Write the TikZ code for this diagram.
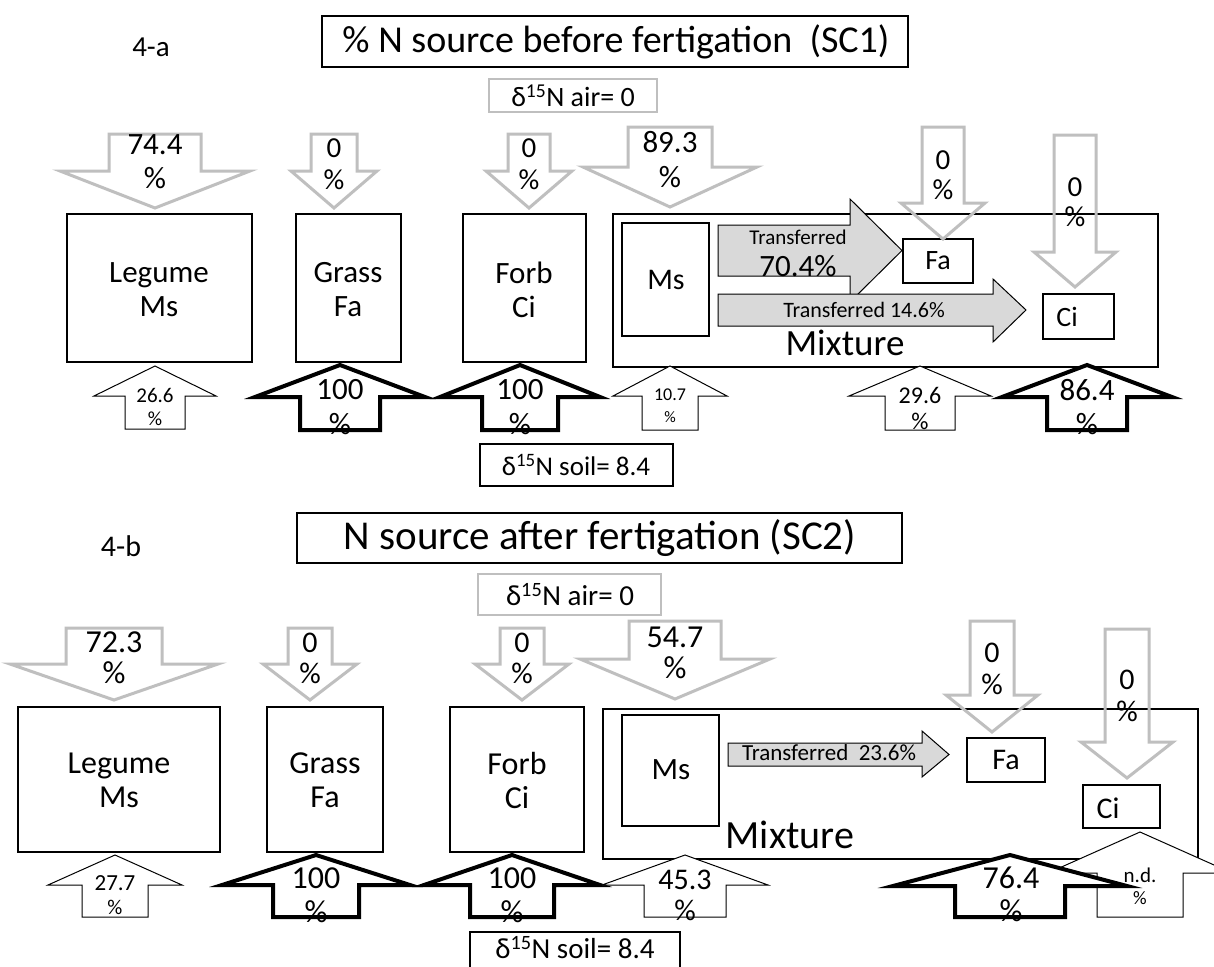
\documentclass[tikz,border=0pt]{standalone}
\usepackage{fontspec}
\setmainfont{Carlito}
\definecolor{arrgray}{HTML}{BFBFBF}
\definecolor{trfill}{HTML}{D9D9D9}
\newcommand{\blockArr}[7][]{\draw[#1] ({#2-#3},#5) -- ({#2+#3},#5) -- ({#2+#3},#6) -- ({#2+#4},#6) -- (#2,#7) -- ({#2-#4},#6) -- ({#2-#3},#6) -- cycle;}
\newcommand{\rtArr}[8][]{\draw[#1] (#2,#3) -- (#5,#3) -- (#5,#6) -- (#8,{(#3+#4)/2}) -- (#5,#7) -- (#5,#4) -- (#2,#4) -- cycle;}
\newcommand{\fs}[1]{\fontsize{#1}{#1}\selectfont}
\newcommand{\fsl}[2]{\fontsize{#1}{#2}\selectfont}
\tikzset{
  box/.style={draw=black, line width=1.3pt},
  airbox/.style={draw=arrgray, line width=2.5pt},
  grayarr/.style={draw=arrgray, line width=3pt, line join=miter},
  thinarr/.style={draw=black, fill=white, line width=1pt, line join=miter},
  thickarr/.style={draw=black, fill=white, line width=4pt, line join=miter},
  trarr/.style={draw=black, fill=trfill, line width=1pt, line join=miter},
  lbl/.style={inner sep=0pt, anchor=center, align=center, font=\fs{31}},
  lblb/.style={inner sep=0pt, anchor=center, align=center, font=\fs{30}},
}
\begin{document}
\begin{tikzpicture}[x=1pt,y=-1pt]
\clip (0,0) rectangle (1214,966);
\fill[white] (0,0) rectangle (1214,966);
% ================= TOP (4-a) =================
\node[lbl,font=\fs{29}] (la) at (151,47) {4-a};
\draw[box] (322,16) rectangle (908,67);
\node[lbl,font=\fs{38}] (t1) at (616,42) {\% N source before fertigation~~(SC1)};
\draw[airbox] (489,79) rectangle (657,112);
\node[lbl,font=\fs{28}] (air1) at (573,96) {δ\textsuperscript{15}N air= 0};
% plant boxes
\draw[box] (67,214) rectangle (252,362);
\node[lbl,font=\fsl{31}{34}] (leg1) at (159,290) {Legume\\Ms};
\draw[box] (296,214) rectangle (401,362);
\node[lbl,font=\fsl{31}{34}] (gr1) at (348,290) {Grass\\Fa};
\draw[box] (463,214) rectangle (586,362);
\node[lbl,font=\fsl{31}{34}] (fo1) at (524,290) {Forb\\Ci};
% mixture
\draw[box] (613,214) rectangle (1158,367);
\draw[box] (622,223) rectangle (709,336);
\node[lbl,font=\fs{30}] (ms1) at (666,280) {Ms};
\rtArr[trarr]{718}{225}{276}{850}{199}{302}{902}
\node[lbl,font=\fs{21}] (tr1a) at (798,237) {Transferred};
\node[lbl,font=\fs{31}] (tr1b) at (798,266) {70.4\%};
\draw[box] (903,239) rectangle (973,283);
\node[lbl,font=\fs{28}] (fa1) at (938,261) {Fa};
\rtArr[trarr]{718}{294}{326}{993}{279}{342}{1026}
\node[lbl,font=\fs{22}] (tr1c) at (864,310) {Transferred 14.6\%};
\draw[box] (1043,294) rectangle (1114,339);
\node[lbl,font=\fs{28}] (ci1) at (1067,317) {Ci};
\node[lbl,font=\fs{37}] (mix1) at (845,343) {Mixture};
% gray down arrows
\blockArr[grayarr]{155}{46}{95}{134}{171}{208}
\node[lbl] at (155,145) {74.4};
\node[lbl] at (155,178) {\%};
\blockArr[grayarr]{334}{23}{43}{134}{171}{208}
\node[lbl,font=\fs{29}] at (334,148) {0};
\node[lbl,font=\fs{29}] at (334,180) {\%};
\blockArr[grayarr]{529}{21}{43}{134}{171}{208}
\node[lbl,font=\fs{29}] at (529,148) {0};
\node[lbl,font=\fs{29}] at (529,180) {\%};
\blockArr[grayarr]{670}{42}{87}{127}{167}{207}
\node[lbl] at (670,142) {89.3};
\node[lbl] at (670,177) {\%};
\blockArr[grayarr]{943}{21}{42}{127}{203}{239}
\node[lbl,font=\fs{29}] at (943,160) {0};
\node[lbl,font=\fs{29}] at (943,190) {\%};
\blockArr[grayarr]{1075}{21}{41}{135}{252}{287}
\node[lbl,font=\fs{29}] at (1075,187) {0};
\node[lbl,font=\fs{29}] at (1075,217) {\%};
% black up arrows
\blockArr[thinarr]{155}{30}{61}{429}{396}{366}
\node[lbl,font=\fs{21}] at (155,395) {26.6};
\node[lbl,font=\fs{20}] at (155,419) {\%};
\blockArr[thickarr]{340}{40}{85}{430}{397}{365}
\node[lbl] at (340,390) {100};
\node[lbl] at (340,424) {\%};
\blockArr[thickarr]{520}{38}{80}{430}{397}{365}
\node[lbl] at (520,390) {100};
\node[lbl] at (520,424) {\%};
\blockArr[thinarr]{670}{28}{57}{430}{396}{366}
\node[lbl,font=\fs{18}] at (670,395) {10.7};
\node[lbl,font=\fs{16}] at (670,417) {\%};
\blockArr[thinarr]{920}{35}{71}{430}{396}{366}
\node[lbl,font=\fs{24}] at (920,395) {29.6};
\node[lbl,font=\fs{24}] at (920,421) {\%};
\blockArr[thickarr]{1087}{40}{85}{430}{397}{365}
\node[lbl] at (1087,390) {86.4};
\node[lbl] at (1087,424) {\%};
% soil box
\draw[box] (480,444) rectangle (673,486);
\node[lbl,font=\fs{27}] (soil1) at (576,465) {δ\textsuperscript{15}N soil= 8.4};
% ================= BOTTOM (4-b) =================
\node[lbl,font=\fs{30}] (lb) at (121,546) {4-b};
\draw[box] (297,513) rectangle (902,563);
\node[lbl,font=\fs{41}] (t2) at (600,538) {N source after fertigation (SC2)};
\draw[airbox] (478,574) rectangle (661,615);
\node[lbl,font=\fs{29}] (air2) at (570,595) {δ\textsuperscript{15}N air= 0};
\draw[box] (18,707) rectangle (220,852);
\node[lblb,font=\fsl{32}{34}] (leg2) at (119,780) {Legume\\Ms};
\draw[box] (267,707) rectangle (383,852);
\node[lblb,font=\fsl{32}{34}] (gr2) at (325,780) {Grass\\Fa};
\draw[box] (450,707) rectangle (584,852);
\node[lblb,font=\fsl{32}{34}] (fo2) at (517,780) {Forb\\Ci};
% mixture
\draw[box] (603,709) rectangle (1198,859);
\draw[box] (622,715) rectangle (719,826);
\node[lblb,font=\fs{31}] (ms2) at (671,770) {Ms};
\rtArr[trarr]{728}{743}{766}{922}{731}{777}{949}
\node[lbl,font=\fs{23}] (tr2) at (829,753) {Transferred~~23.6\%};
\draw[box] (967,738) rectangle (1045,782);
\node[lblb] (fa2) at (1006,760) {Fa};
\draw[box] (1083,785) rectangle (1160,828);
\node[lblb] (ci2) at (1108,808) {Ci};
\node[lbl,font=\fs{40}] (mix2) at (790,835) {Mixture};
% gray down arrows
\blockArr[grayarr]{114}{48}{104}{628}{664}{700}
\node[lblb,font=\fs{32}] at (114,642) {72.3};
\node[lblb,font=\fs{32}] at (114,673) {\%};
\blockArr[grayarr]{310}{22}{47}{628}{664}{700}
\node[lblb] at (310,643) {0};
\node[lblb] at (310,673) {\%};
\blockArr[grayarr]{522}{22}{47}{628}{664}{700}
\node[lblb] at (522,643) {0};
\node[lblb] at (522,673) {\%};
\blockArr[grayarr]{675}{46}{95}{621}{659}{699}
\node[lblb,font=\fs{32}] at (675,637) {54.7};
\node[lblb,font=\fs{32}] at (675,668) {\%};
\blockArr[grayarr]{992}{22}{46}{621}{695}{732}
\node[lblb] at (992,653) {0};
\node[lblb] at (992,684) {\%};
\blockArr[grayarr]{1127}{22}{46}{629}{742}{778}
\node[lblb] at (1127,680) {0};
\node[lblb] at (1127,711) {\%};
% black up arrows
\blockArr[thinarr]{115}{33}{67}{917}{885}{855}
\node[lbl,font=\fs{23}] at (115,883) {27.7};
\node[lbl,font=\fs{21}] at (115,907) {\%};
\blockArr[thickarr]{316}{43}{94}{917}{885}{855}
\node[lblb,font=\fs{32}] at (316,878) {100};
\node[lblb,font=\fs{32}] at (316,912) {\%};
\blockArr[thickarr]{512}{42}{88}{917}{885}{855}
\node[lblb,font=\fs{32}] at (512,878) {100};
\node[lblb,font=\fs{32}] at (512,912) {\%};
\blockArr[thinarr]{685}{41}{83}{917}{885}{855}
\node[lbl,font=\fs{30}] at (685,880) {45.3};
\node[lbl,font=\fs{30}] at (685,910) {\%};
\blockArr[thinarr]{1140}{43}{92}{917}{873}{832}
\node[lbl,font=\fs{21}] at (1140,875) {n.d.};
\node[lbl,font=\fs{19}] at (1140,898) {\%};
\blockArr[thickarr]{1010}{55}{117}{917}{886}{855}
\node[lblb,font=\fs{32}] at (1011,878) {76.4};
\node[lblb,font=\fs{32}] at (1011,911) {\%};
% soil box
\draw[box] (470,932) rectangle (680,980);
\node[lbl,font=\fs{29}] (soil2) at (575,948) {δ\textsuperscript{15}N soil= 8.4};
\end{tikzpicture}
\end{document}
